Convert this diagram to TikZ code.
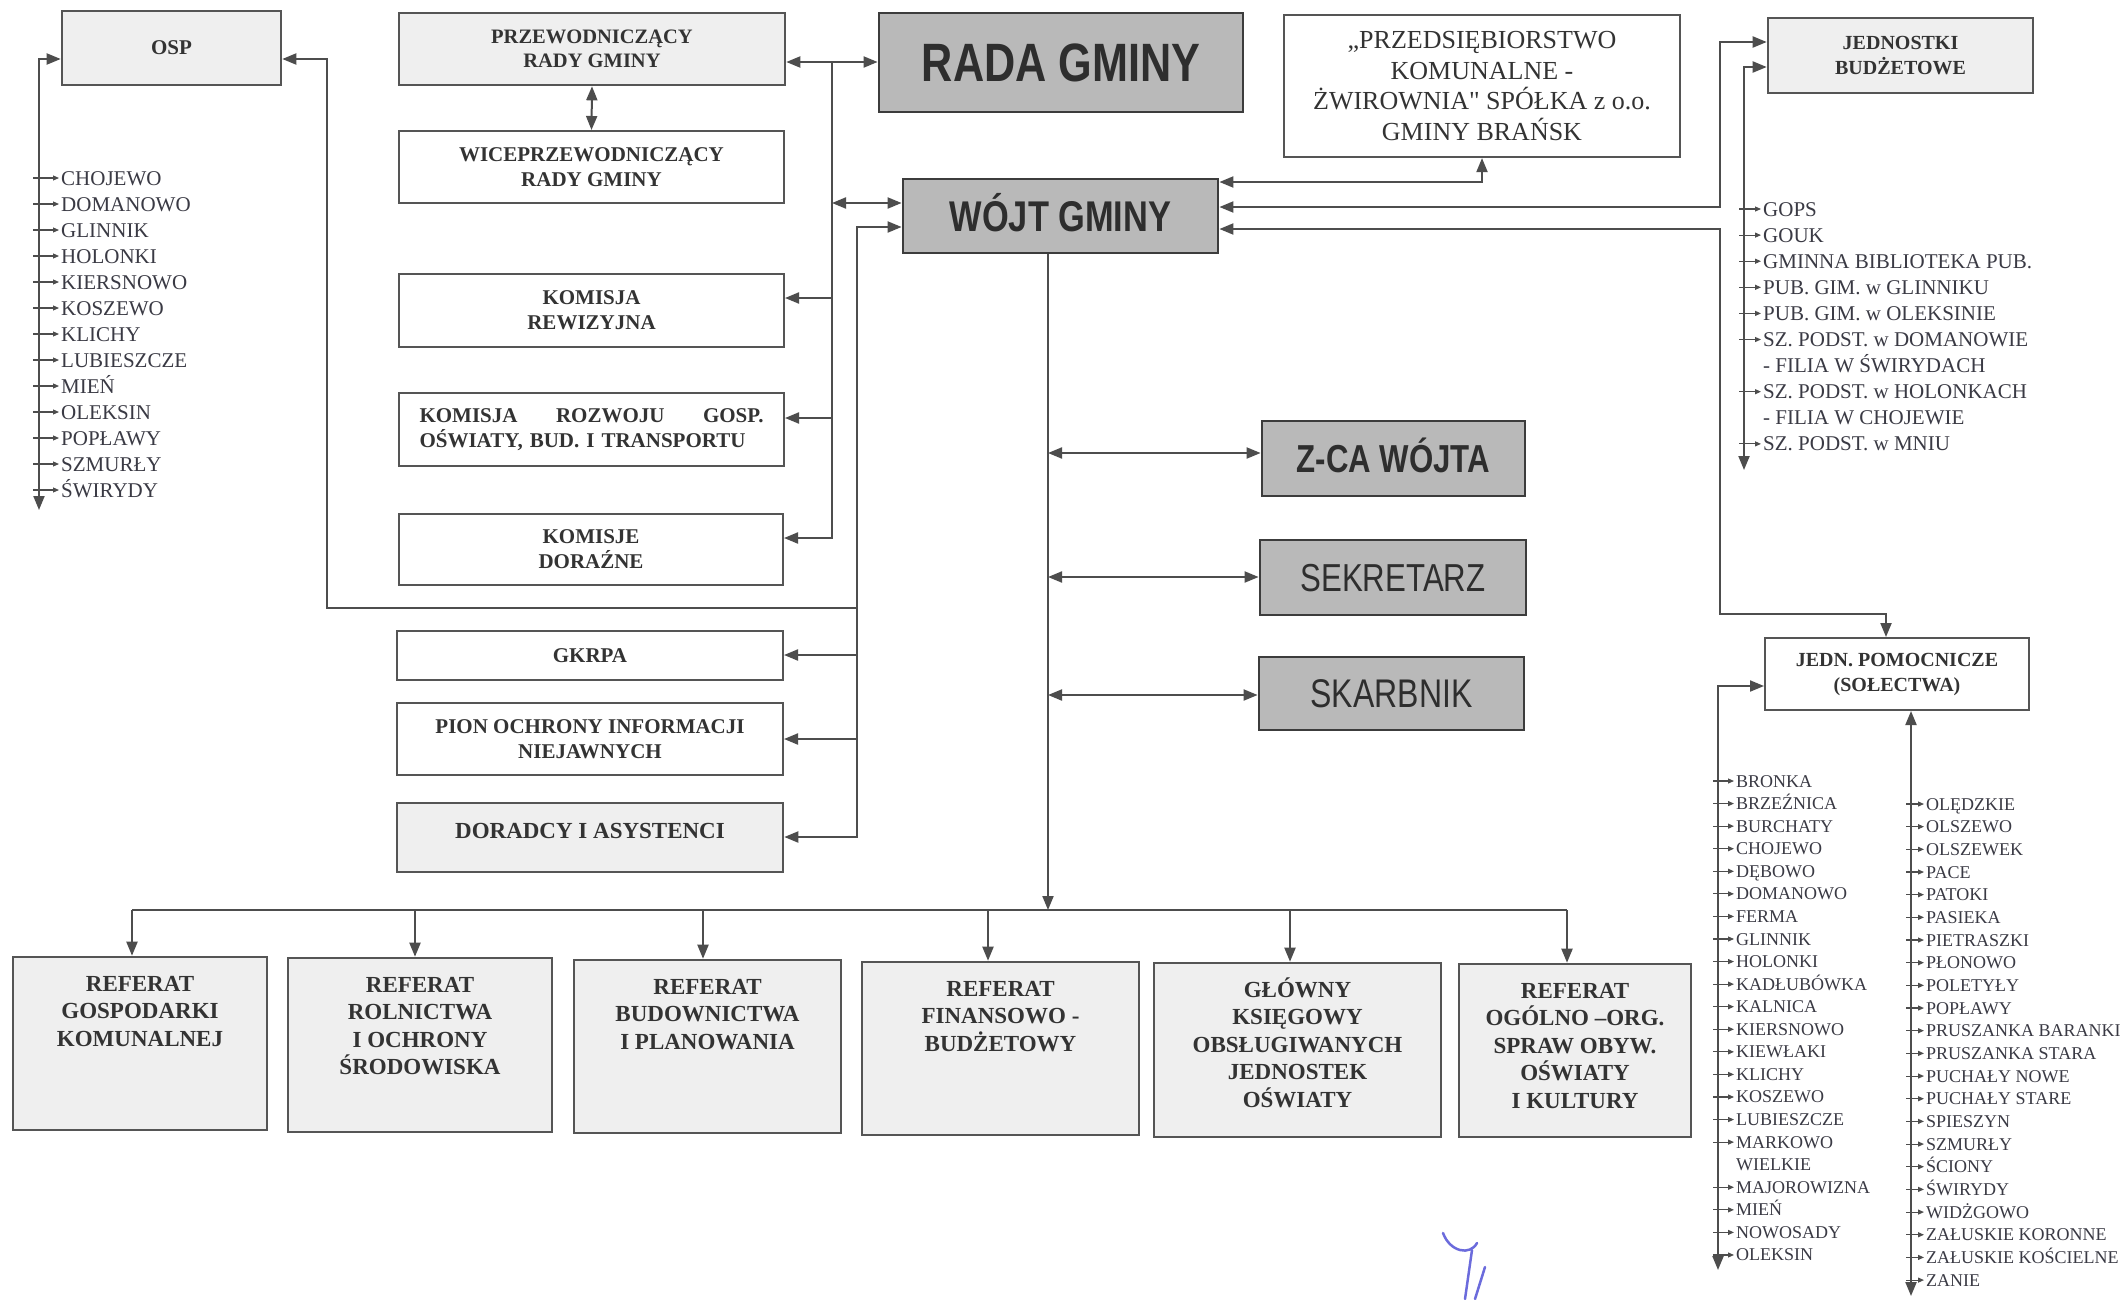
\documentclass[tikz,border=0pt]{standalone}
\usepackage{fontspec}
\setmainfont{Liberation Serif}
\newfontfamily\narrowsans[FakeStretch=0.8]{Liberation Sans}
\newfontfamily\rawserif[Ligatures=TeXOff]{Liberation Serif}
\usetikzlibrary{arrows.meta,calc}
\definecolor{linecol}{HTML}{4D4D4D}
\definecolor{boxline}{HTML}{555555}
\definecolor{darkline}{HTML}{3C3C3C}
\definecolor{midfill}{HTML}{B9B9B9}
\definecolor{lightfill}{HTML}{EFEFEF}
\definecolor{txt}{HTML}{333333}
\definecolor{bigtxt}{HTML}{2E2E2E}
\definecolor{listtxt}{HTML}{3A3A44}
\definecolor{pen}{HTML}{6B6BDC}
\tikzset{
  conn/.style={draw=linecol,line width=2pt},
  arr/.style={conn,-{Triangle[length=14pt,width=11pt]}},
  dbl/.style={conn,{Triangle[length=14pt,width=11pt]}-{Triangle[length=14pt,width=11pt]}},
  tinyarr/.style={draw=linecol,line width=1.1pt,shorten >=2pt,-{Triangle[length=6pt,width=5pt]}},
  sz/.style 2 args={minimum width=#1pt,minimum height=#2pt},
  box/.style={draw=boxline,line width=2pt,fill=white,inner sep=0pt,align=center,text=txt,
    font=\bfseries\fontsize{21}{25}\selectfont},
  lbox/.style={box,fill=lightfill,line width=2.6pt},
  gbox/.style={box,fill=midfill,draw=darkline,line width=2.8pt,text=bigtxt},
  th/.style={text height=#1pt,text depth=0pt},
  reft/.style={anchor=north,inner sep=0pt,align=center,text=txt,
    font=\bfseries\fontsize{23}{27.5}\selectfont},
  item/.style={anchor=base west,inner sep=0pt,text=listtxt,font=\fontsize{21}{24}\selectfont},
  sitem/.style={item,font=\fontsize{18}{20}\selectfont},
  scrib/.style={draw=pen,line width=2.5pt,line cap=round}
}
\begin{document}
\begin{tikzpicture}[x=1pt,y=-1pt]
\fill[white] (0,0) rectangle (2128,1299);
\useasboundingbox (0,0) rectangle (2128,1299);

% ---------- boxes, left column ----------
\node[lbox,sz={219}{74}] (osp) at (171.5,48) {OSP};
\node[lbox,sz={386}{72},font=\bfseries\fontsize{20.5}{24.5}\selectfont] (przew) at (592,49) {PRZEWODNICZĄCY\\RADY GMINY};
\node[box,sz={385}{72}] (wice) at (591.5,167) {WICEPRZEWODNICZĄCY\\RADY GMINY};
\node[box,sz={385}{73}] (komrew) at (591.5,310.5) {KOMISJA\\REWIZYJNA};
\node[box,sz={385}{73},text width=344pt,align=left] (komroz) at (591.5,429.5)
  {\makebox[344pt][s]{KOMISJA\hfill ROZWOJU\hfill GOSP.}\\OŚWIATY, BUD. I TRANSPORTU};
\node[box,sz={384}{71}] (komdor) at (591,549.5) {KOMISJE\\DORAŹNE};
\node[box,sz={386}{49}] (gkrpa) at (590,655.5) {GKRPA};
\node[box,sz={386}{72}] (pion) at (590,739) {PION OCHRONY INFORMACJI\\NIEJAWNYCH};
\node[lbox,sz={386}{69},font=\bfseries\fontsize{23}{27}\selectfont,text height=16pt,text depth=14pt] (dor) at (590,837.5) {DORADCY I ASYSTENCI};

% ---------- central / right boxes ----------
\node[gbox,sz={364}{99},th=38.7,font=\narrowsans\bfseries\fontsize{54}{60}\selectfont] (rada) at (1061,62.5) {RADA GMINY};
\node[box,sz={396}{142},line width=2.2pt,font=\fontsize{26}{30.5}\selectfont] (przeds) at (1482,86)
  {„PRZEDSIĘBIORSTWO\\KOMUNALNE -\\ŻWIROWNIA{\rawserif"} SPÓŁKA z o.o.\\GMINY BRAŃSK};
\node[lbox,sz={265}{75},font=\bfseries\fontsize{20}{25}\selectfont] (jedbud) at (1900.5,55.5) {JEDNOSTKI\\BUDŻETOWE};
\node[gbox,sz={315}{74},th=30.8,font=\narrowsans\bfseries\fontsize{43}{48}\selectfont] (wojt) at (1060.5,216) {WÓJT GMINY};
\node[gbox,sz={263}{75},th=27.9,font=\narrowsans\bfseries\fontsize{39}{44}\selectfont] (zca) at (1393.5,458.5) {Z-CA WÓJTA};
\node[gbox,sz={266}{75},th=27.9,font=\narrowsans\fontsize{39}{44}\selectfont] (sekr) at (1393,577.5) {SEKRETARZ};
\node[gbox,sz={265}{73},th=28.6,font=\narrowsans\fontsize{40}{44}\selectfont] (skarb) at (1391.5,693.5) {SKARBNIK};
\node[box,sz={264}{72},font=\bfseries\fontsize{20}{25}\selectfont] (jpom) at (1897,674) {JEDN. POMOCNICZE\\(SOŁECTWA)};

% ---------- bottom boxes ----------
\node[lbox,sz={254}{173}] (rgk) at (140,1043.5) {};
\node[lbox,sz={264}{174}] (rro) at (420,1045) {};
\node[lbox,sz={267}{173}] (rbp) at (707.5,1046.5) {};
\node[lbox,sz={277}{173}] (rfb) at (1000.5,1048.5) {};
\node[lbox,sz={287}{174}] (gks) at (1297.5,1050) {};
\node[lbox,sz={232}{173}] (roo) at (1575,1050.5) {};
\node[reft] (rgkt) at ([yshift=-13.5pt]rgk.north) {\rule{0pt}{22pt}REFERAT\\GOSPODARKI\\KOMUNALNEJ};
\node[reft] (rrot) at ([yshift=-13.5pt]rro.north) {\rule{0pt}{22pt}REFERAT\\ROLNICTWA\\I OCHRONY\\ŚRODOWISKA};
\node[reft] (rbpt) at ([yshift=-13.5pt]rbp.north) {\rule{0pt}{22pt}REFERAT\\BUDOWNICTWA\\I PLANOWANIA};
\node[reft] (rfbt) at ([yshift=-13.5pt]rfb.north) {\rule{0pt}{22pt}REFERAT\\FINANSOWO -\\BUDŻETOWY};
\node[reft] (gkst) at ([yshift=-13.5pt]gks.north) {\rule{0pt}{22pt}GŁÓWNY\\KSIĘGOWY\\OBSŁUGIWANYCH\\JEDNOSTEK\\OŚWIATY};
\node[reft] (root) at ([yshift=-13.5pt]roo.north) {\rule{0pt}{22pt}REFERAT\\OGÓLNO –ORG.\\SPRAW OBYW.\\OŚWIATY\\I KULTURY};

% ---------- connectors: council side ----------
\coordinate (b1) at (832,62);
\draw[dbl] (przew.east |- b1) -- (rada.west |- b1);
\draw[dbl] (przew.south) -- (wice.north);
\draw[arr] (b1) |- (komdor.east |- 0,538);
\draw[arr] (b1 |- 0,298) -- (komrew.east |- 0,298);
\draw[arr] (b1 |- 0,418) -- (komroz.east |- 0,418);
\draw[dbl] (b1 |- 0,203) -- (wojt.west |- 0,203);

\coordinate (b2) at (857,227);
\draw[dbl] (dor.east |- 0,837) -| (b2) -- (wojt.west |- b2);
\draw[arr] (b2 |- 0,655) -- (gkrpa.east |- 0,655);
\draw[arr] (b2 |- 0,739) -- (pion.east |- 0,739);
\coordinate (ospr) at (327,59);
\draw[arr] (b2 |- 0,608) -| (ospr) -- (osp.east |- ospr);
\coordinate (ospl) at (39,510);
\draw[dbl] (ospl) |- (osp.west |- 0,59);

% ---------- connectors: right side ----------
\draw[dbl] (wojt.east |- 0,182) -| (przeds.south);
\coordinate (jb) at (1720,42);
\draw[dbl] (wojt.east |- 0,207) -| (jb) -- (jedbud.west |- jb);
\coordinate (jp) at (1720,614);
\draw[dbl] (wojt.east |- 0,229) -| (jp) -| ([xshift=-11pt]jpom.north);
\coordinate (gl) at (1744,470);
\draw[dbl] (gl) |- (jedbud.west |- 0,67);

% ---------- connectors: main vertical ----------
\coordinate (mv) at (wojt.south -| 1048,0);
\draw[arr] (mv) -- (mv |- 0,910);
\draw[dbl] (mv |- 0,453) -- (zca.west |- 0,453);
\draw[dbl] (mv |- 0,577) -- (sekr.west |- 0,577);
\draw[dbl] (mv |- 0,695) -- (skarb.west |- 0,695);
\coordinate (busL) at (132,910);
\coordinate (busR) at (1567,910);
\draw[conn] (busL) -- (busR);
\foreach \n/\x in {rgk/132,rro/415,rbp/703,rfb/988,gks/1290,roo/1567}
  \draw[arr] (\x,910) -- (\n.north -| \x,0);

% ---------- sołectwa connectors ----------
\coordinate (sl) at (1718,1270);
\draw[dbl] (sl) |- (jpom.west |- 0,686);
\coordinate (sr) at (1911,1296);
\draw[dbl] (sr) -- (jpom.south -| sr);

% ---------- lists ----------
\foreach \t [count=\i] in {CHOJEWO,DOMANOWO,GLINNIK,HOLONKI,KIERSNOWO,KOSZEWO,KLICHY,LUBIESZCZE,MIEŃ,OLEKSIN,POPŁAWY,SZMURŁY,ŚWIRYDY}{
  \pgfmathsetmacro\yy{178+(\i-1)*26}
  \node[item] (osp\i) at (61,\yy+7) {\t};
  \draw[tinyarr] (33,\yy) -- (osp\i.west |- 0,\yy);
}
\foreach \t [count=\i] in {GOPS,GOUK,GMINNA BIBLIOTEKA PUB.,PUB. GIM. w GLINNIKU,PUB. GIM. w OLEKSINIE,SZ. PODST. w DOMANOWIE,- FILIA W ŚWIRYDACH,SZ. PODST. w HOLONKACH,- FILIA W CHOJEWIE,SZ. PODST. w MNIU}{
  \pgfmathsetmacro\yy{209+(\i-1)*26.1}
  \node[item] (gops\i) at (1763,\yy+7) {\t};
  \ifnum\i=7 \else\ifnum\i=9 \else
  \draw[tinyarr] (1739,\yy) -- (gops\i.west |- 0,\yy);
  \fi\fi
}
\foreach \t [count=\i] in {BRONKA,BRZEŹNICA,BURCHATY,CHOJEWO,DĘBOWO,DOMANOWO,FERMA,GLINNIK,HOLONKI,KADŁUBÓWKA,KALNICA,KIERSNOWO,KIEWŁAKI,KLICHY,KOSZEWO,LUBIESZCZE,MARKOWO,WIELKIE,MAJOROWIZNA,MIEŃ,NOWOSADY,OLEKSIN}{
  \pgfmathsetmacro\yy{781+(\i-1)*22.57}
  \node[sitem] (sl\i) at (1736,\yy+6) {\t};
  \ifnum\i=18 \else
  \draw[tinyarr] (1713,\yy) -- (sl\i.west |- 0,\yy);
  \fi
}
\foreach \t [count=\i] in {OLĘDZKIE,OLSZEWO,OLSZEWEK,PACE,PATOKI,PASIEKA,PIETRASZKI,PŁONOWO,POLETYŁY,POPŁAWY,PRUSZANKA BARANKI,PRUSZANKA STARA,PUCHAŁY NOWE,PUCHAŁY STARE,SPIESZYN,SZMURŁY,ŚCIONY,ŚWIRYDY,WIDŻGOWO,ZAŁUSKIE KORONNE,ZAŁUSKIE KOŚCIELNE,ZANIE}{
  \pgfmathsetmacro\yy{804+(\i-1)*22.67}
  \node[sitem] (sr\i) at (1926,\yy+6) {\t};
  \draw[tinyarr] (1906,\yy) -- (sr\i.west |- 0,\yy);
}

% ---------- pen mark ----------
\draw[scrib] (1443,1233) .. controls (1450,1252) and (1470,1256) .. (1477,1243);
\draw[scrib] (1472,1250) -- (1465,1299);
\draw[scrib] (1485,1267) -- (1475,1299);
\end{tikzpicture}
\end{document}
